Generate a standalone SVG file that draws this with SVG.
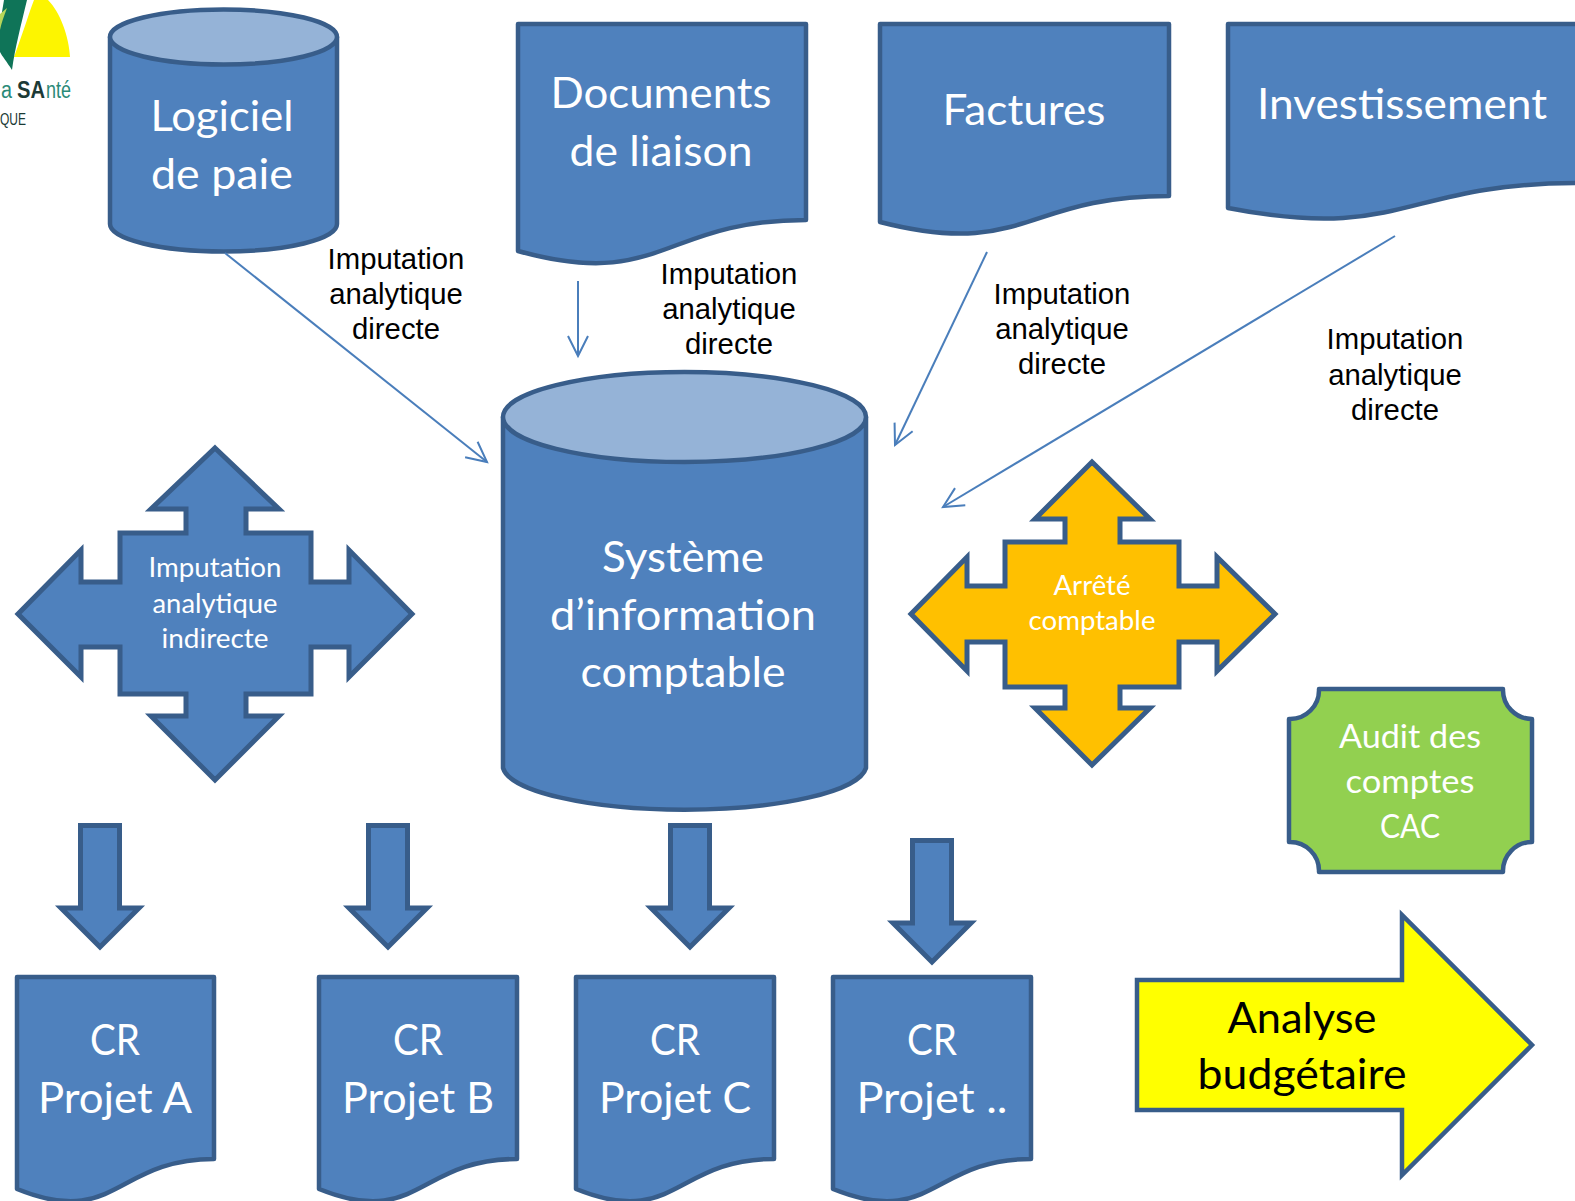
<svg xmlns="http://www.w3.org/2000/svg" width="1575" height="1201" viewBox="0 0 1575 1201">
<style>
.s{fill:#4f81bd;stroke:#385d8a;stroke-width:4.5;stroke-linejoin:round}
.a{fill:#4f81bd;stroke:#385d8a;stroke-width:5;stroke-linejoin:miter}
.t{fill:#95b3d7;stroke:#385d8a;stroke-width:4.5}
.w{font-family:Lato,"Liberation Sans",sans-serif;fill:#fff;text-anchor:middle}
.l{font-size:43px}
.m{font-size:27px}
.b{font-family:"Liberation Sans",Arial,sans-serif;font-size:29.3px;fill:#000;text-anchor:middle}
.c{fill:none;stroke:#4a7ebb;stroke-width:2}
.g{font-family:"Liberation Sans",sans-serif;font-size:23px;fill:#2a8a78}
</style>
<defs>
<marker id="open" markerUnits="userSpaceOnUse" markerWidth="30" markerHeight="30" refX="22" refY="12" orient="auto">
<path d="M2,2 L22,12 L2,22" fill="none" stroke="#4a7ebb" stroke-width="2"/>
</marker>
</defs>
<rect width="1575" height="1201" fill="#fff"/>
<g id="logo">
<path d="M14,57 C24,30 30,10 34,0 H48 C60,12 69,36 70,57 Z" fill="#fdf500"/>
<path d="M4,0 H27 C21,25 15,48 12,70 C7,62 2,56 0,52 V24 Z" fill="#0f7458"/>
<path d="M7,8 C4,16 1,24 0,30 V14 Z" fill="#b7d65a"/>
<text class="g" x="1" y="98" textLength="11" lengthAdjust="spacingAndGlyphs">a</text>
<text class="g" x="17" y="98" font-weight="bold" style="fill:#1c3a36" textLength="28" lengthAdjust="spacingAndGlyphs">SA</text>
<text class="g" x="46" y="98" textLength="25" lengthAdjust="spacingAndGlyphs">nté</text>
<text x="0" y="125" font-family="Liberation Sans,sans-serif" font-size="16" fill="#1a3a35" textLength="26" lengthAdjust="spacingAndGlyphs">QUE</text>
</g>
<g id="logiciel-de-paie">
<path class="s" d="M110,37 V224 A113.5,27.5 0 0 0 337,224 V37 Z"/>
<ellipse class="t" cx="223.500" cy="37" rx="113.500" ry="27.500"/>
<text class="w l" x="222" y="131" textLength="143" lengthAdjust="spacingAndGlyphs">Logiciel</text>
<text class="w l" x="222" y="189" textLength="142" lengthAdjust="spacingAndGlyphs">de paie</text>
</g>
<g id="documents-de-liaison">
<path class="s" d="M518,24 H806 V220 C662,220 662,291 518,251 Z"/>
<text class="w l" x="661" y="108" textLength="221" lengthAdjust="spacingAndGlyphs">Documents</text>
<text class="w l" x="661" y="166" textLength="183" lengthAdjust="spacingAndGlyphs">de liaison</text>
</g>
<g id="factures">
<path class="s" d="M880,24 H1169 V196 C1024.500,196 1024.500,259 880,222 Z"/>
<text class="w l" x="1024" y="125" textLength="163" lengthAdjust="spacingAndGlyphs">Factures</text>
</g>
<g id="investissement">
<path class="s" d="M1228,24 H1578 V183 C1403,183 1403,242 1228,208 Z"/>
<text class="w l" x="1402" y="119" textLength="290" lengthAdjust="spacingAndGlyphs">Investissement</text>
</g>
<g id="systeme-information">
<path class="s" d="M503,417 V768 A182,45 0 0 0 866,768 V417 Z"/>
<ellipse class="t" cx="684.500" cy="417" rx="181.500" ry="45"/>
<text class="w l" x="683" y="572" textLength="162" lengthAdjust="spacingAndGlyphs">Système</text>
<text class="w l" x="683" y="630" textLength="266" lengthAdjust="spacingAndGlyphs">d’information</text>
<text class="w l" x="683" y="687" textLength="205" lengthAdjust="spacingAndGlyphs">comptable</text>
</g>
<g id="imputation-indirecte">
<path class="a" d="M215,448 L279,509 H246 V533 H311 V582 H349 V550 L412,614 L349,677 V647 H311 V694 H246 V716 H279 L215,780 L151,716 H186 V694 H120 V647 H81 V677 L18,614 L81,550 V582 H120 V533 H186 V509 H151 Z"/>
<text class="w m" x="215" y="577" textLength="133" lengthAdjust="spacingAndGlyphs">Imputation</text>
<text class="w m" x="215" y="613" textLength="125" lengthAdjust="spacingAndGlyphs">analytique</text>
<text class="w m" x="215" y="648" textLength="107" lengthAdjust="spacingAndGlyphs">indirecte</text>
</g>
<g id="arrete-comptable">
<path d="M1092,462 L1150,519 H1120 V542 H1179 V586 H1217 V557 L1275,614 L1217,671 V642 H1179 V687 H1120 V708 H1150 L1092,765 L1035,708 H1065 V687 H1005 V642 H967 V671 L911,614 L967,557 V586 H1005 V542 H1065 V519 H1035 Z" fill="#ffc000" stroke="#385d8a" stroke-width="5" stroke-linejoin="miter"/>
<text class="w m" x="1092" y="595" textLength="77" lengthAdjust="spacingAndGlyphs">Arrêté</text>
<text class="w m" x="1092" y="630" textLength="127" lengthAdjust="spacingAndGlyphs">comptable</text>
</g>
<g id="audit-comptes">
<path d="M1319,689 H1503 A29,29 0 0 0 1532,719 V842 A29,29 0 0 0 1503,872 H1319 A29,29 0 0 0 1289,842 V719 A29,29 0 0 0 1319,689 Z" fill="#92d050" stroke="#385d8a" stroke-width="4.5" stroke-linejoin="round"/>
<text class="w" font-size="33" x="1410" y="748" textLength="142" lengthAdjust="spacingAndGlyphs">Audit des</text>
<text class="w" font-size="33" x="1410" y="793" textLength="129" lengthAdjust="spacingAndGlyphs">comptes</text>
<text class="w" font-size="33" x="1410" y="838" textLength="60" lengthAdjust="spacingAndGlyphs">CAC</text>
</g>
<g id="analyse-budgetaire">
<path d="M1137,980 H1402 V915 L1532,1045 L1402,1175 V1110 H1137 Z" fill="#ffff00" stroke="#385d8a" stroke-width="4.500" stroke-linejoin="miter"/>
<text class="l" font-family="Lato,'Liberation Sans',sans-serif" fill="#000" text-anchor="middle" x="1302" y="1033" textLength="149" lengthAdjust="spacingAndGlyphs">Analyse</text>
<text class="l" font-family="Lato,'Liberation Sans',sans-serif" fill="#000" text-anchor="middle" x="1302" y="1089" textLength="209" lengthAdjust="spacingAndGlyphs">budgétaire</text>
</g>
<g id="projet-a">
<path class="s" d="M17,977 H214 V1159 C115.500,1159 115.500,1229 17,1189 Z"/>
<text class="w l" x="115" y="1055" textLength="50" lengthAdjust="spacingAndGlyphs">CR</text>
<text class="w l" x="115" y="1113" textLength="154" lengthAdjust="spacingAndGlyphs">Projet A</text>
</g>
<g id="projet-b">
<path class="s" d="M319,977 H517 V1159 C418,1159 418,1229 319,1189 Z"/>
<text class="w l" x="418" y="1055" textLength="50" lengthAdjust="spacingAndGlyphs">CR</text>
<text class="w l" x="418" y="1113" textLength="152" lengthAdjust="spacingAndGlyphs">Projet B</text>
</g>
<g id="projet-c">
<path class="s" d="M576,977 H774 V1159 C675,1159 675,1229 576,1189 Z"/>
<text class="w l" x="675" y="1055" textLength="50" lengthAdjust="spacingAndGlyphs">CR</text>
<text class="w l" x="675" y="1113" textLength="152" lengthAdjust="spacingAndGlyphs">Projet C</text>
</g>
<g id="projet-d">
<path class="s" d="M833,977 H1031 V1159 C932,1159 932,1229 833,1189 Z"/>
<text class="w l" x="932" y="1055" textLength="50" lengthAdjust="spacingAndGlyphs">CR</text>
<text class="w l" x="932" y="1113" textLength="151" lengthAdjust="spacingAndGlyphs">Projet ..</text>
</g>
<g id="connectors">
<path class="c" d="M225,253 L487,462" marker-end="url(#open)"/>
<path class="c" d="M578,281 L578,356" marker-end="url(#open)"/>
<path class="c" d="M987,252 L895,445" marker-end="url(#open)"/>
<path class="c" d="M1395,236 L943,507" marker-end="url(#open)"/>
<path class="a" d="M80.500,825.500 H119.500 V908 H139 L100,947 L61,908 H80.500 Z"/>
<path class="a" d="M368.500,825.500 H407.500 V908 H427 L388,947 L349,908 H368.500 Z"/>
<path class="a" d="M670.500,825.500 H709.500 V908 H729 L690,947 L651,908 H670.500 Z"/>
<path class="a" d="M912.500,840.500 H951.500 V923 H971 L932,962 L893,923 H912.500 Z"/>
</g>
<g id="labels">
<text class="b" x="396" y="269">Imputation</text><text class="b" x="396" y="304">analytique</text><text class="b" x="396" y="339">directe</text>
<text class="b" x="729" y="284">Imputation</text><text class="b" x="729" y="319">analytique</text><text class="b" x="729" y="354">directe</text>
<text class="b" x="1062" y="304">Imputation</text><text class="b" x="1062" y="339">analytique</text><text class="b" x="1062" y="374">directe</text>
<text class="b" x="1395" y="349">Imputation</text><text class="b" x="1395" y="385">analytique</text><text class="b" x="1395" y="420">directe</text>
</g>
</svg>
